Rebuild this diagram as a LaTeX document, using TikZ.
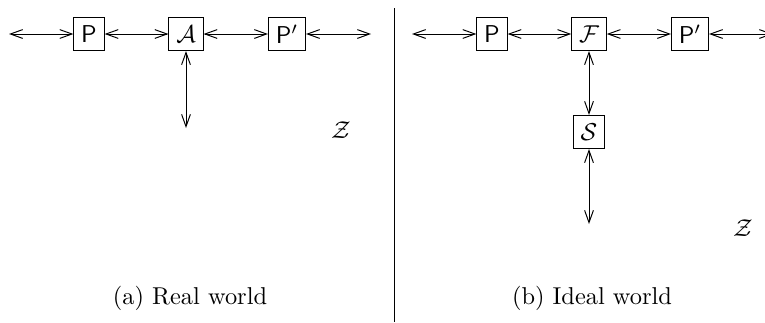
\documentclass[tikz,border=0pt]{standalone}
\usepackage{amsmath}
\usepackage{xcolor}
\usepackage{tikz}
\usetikzlibrary{positioning, arrows.meta}

\tikzset{
    party/.style={draw, font=\sffamily, minimum height=13.6pt, inner sep=3pt},
    link/.style={{Straight Barb[length=5pt, width=3.6pt]}-{Straight Barb[length=5pt, width=3.6pt]}}
}

\begin{document}
\begin{tikzpicture}[x=0.41pt, y=-0.41pt]
        \useasboundingbox (0,0) rectangle (765,322);

        % real world
        \coordinate (rl) at (9,34);
        \node[party] (rp) at (89,34) {P};
        \node[party] (ra) at (186,34) {$\mathcal{A}$};
        \node[party] (rq) at (287,34) {P$'$};
        \coordinate (rr) at (371,34);
        \coordinate (rd) at (186,128);
        \node (rz) at (341,130) {$\mathcal{Z}$};
        \draw[link] (rl) -- (rp);
        \draw[link] (rp) -- (ra);
        \draw[link] (ra) -- (rq);
        \draw[link] (rq) -- (rr);
        \draw[link] (ra) -- (rd);
        \node (rcap) at (190,298) {(a) Real world};

        % split
        \coordinate (st) at (394,8);
        \coordinate (sb) at (394,322);
        \draw (st) -- (sb);

        % ideal world
        \coordinate (il) at (412,34);
        \node[party] (ip) at (492,34) {P};
        \node[party] (if) at (589,34) {$\mathcal{F}$};
        \node[party] (iq) at (690,34) {P$'$};
        \coordinate (ir) at (773,34);
        \node[party] (is) at (589,132) {$\mathcal{S}$};
        \coordinate (id) at (589,224);
        \node (iz) at (743,228) {$\mathcal{Z}$};
        \draw[link] (il) -- (ip);
        \draw[link] (ip) -- (if);
        \draw[link] (if) -- (iq);
        \draw[link] (iq) -- (ir);
        \draw[link] (if) -- (is);
        \draw[link] (is) -- (id);
        \node (icap) at (592,298) {(b) Ideal world};
    \end{tikzpicture}
\end{document}
